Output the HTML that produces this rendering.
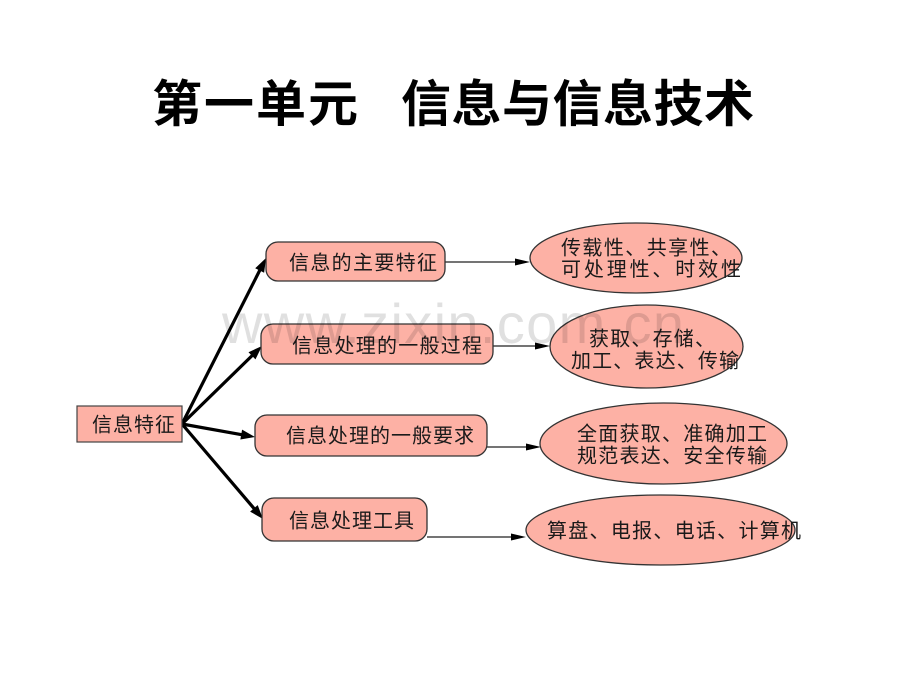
<!DOCTYPE html>
<html>
<head>
<meta charset="utf-8">
<style>
  html,body{margin:0;padding:0;background:#fff;}
  svg{display:block;}
  .t{font-family:"Liberation Sans","Noto Sans CJK SC",sans-serif;font-size:20px;fill:#1a1a1a;}
  .title{font-family:"Liberation Sans","Noto Sans CJK SC",sans-serif;font-size:50px;font-weight:bold;fill:#000;}
</style>
</head>
<body>
<svg width="920" height="690" viewBox="0 0 920 690" xmlns="http://www.w3.org/2000/svg">
  <rect x="0" y="0" width="920" height="690" fill="#fff"/>

  <!-- Title -->
  <text class="title" x="152" y="121.5" textLength="206" lengthAdjust="spacing">第一单元</text>
  <text class="title" x="401" y="121.5" textLength="353" lengthAdjust="spacing">信息与信息技术</text>

  <!-- Thick arrows from hub -->
  <g stroke="#000" stroke-width="3.2" fill="none" stroke-linecap="round">
    <line x1="182" y1="424" x2="261.5" y2="266.9"/>
    <line x1="182" y1="424" x2="254.8" y2="353"/>
    <line x1="182" y1="424" x2="245.2" y2="435.3"/>
    <line x1="182" y1="424" x2="256.5" y2="511.4"/>
  </g>
  <g fill="#000">
    <polygon points="266,258 264.14,272.76 255.22,268.24"/>
    <polygon points="262,346 255.47,359.35 248.49,352.19"/>
    <polygon points="255,437 240.34,439.48 242.09,429.63"/>
    <polygon points="263,519 250.11,511.6 257.71,505.1"/>
  </g>

  <!-- Thin arrows -->
  <g stroke="#222" stroke-width="1.2">
    <line x1="445" y1="262" x2="518" y2="262"/>
    <line x1="493" y1="346" x2="538" y2="346"/>
    <line x1="487" y1="447" x2="529" y2="447"/>
    <line x1="427" y1="537" x2="514" y2="537"/>
  </g>
  <g fill="#000">
    <polygon points="530,262 515,258.5 515,265.5"/>
    <polygon points="550,346 535,342.5 535,349.5"/>
    <polygon points="541,447 526,443.5 526,450.5"/>
    <polygon points="526,537 511,533.5 511,540.5"/>
  </g>

  <!-- Hub -->
  <rect x="77" y="406" width="105" height="36" fill="#FDB1A5" stroke="#444" stroke-width="1.2"/>
  <text class="t" x="92" y="431.5" textLength="83" lengthAdjust="spacing">信息特征</text>

  <!-- Rounded boxes -->
  <g fill="#FDB1A5" stroke="#333" stroke-width="1.3">
    <rect x="266" y="242" width="179" height="39" rx="12" ry="12"/>
    <rect x="261" y="324" width="232" height="40" rx="12" ry="12"/>
    <rect x="255" y="415" width="232" height="41" rx="12" ry="12"/>
    <rect x="262" y="498" width="165" height="43" rx="12" ry="12"/>
  </g>
  <text class="t" x="289" y="269.5" textLength="148" lengthAdjust="spacing">信息的主要特征</text>
  <text class="t" x="292" y="352.5" textLength="190" lengthAdjust="spacing">信息处理的一般过程</text>
  <text class="t" x="286" y="442.5" textLength="188" lengthAdjust="spacing">信息处理的一般要求</text>
  <text class="t" x="289" y="527.5" textLength="125" lengthAdjust="spacing">信息处理工具</text>

  <!-- Ellipses -->
  <g fill="#FDB1A5" stroke="#333" stroke-width="1.3">
    <ellipse cx="636" cy="258" rx="106" ry="35"/>
    <ellipse cx="646.5" cy="346.5" rx="96.5" ry="41.5"/>
    <ellipse cx="663.5" cy="443.5" rx="123.5" ry="40.5"/>
    <ellipse cx="660.5" cy="530" rx="134.5" ry="35"/>
  </g>
  <text class="t" x="561" y="254.5" textLength="170" lengthAdjust="spacing">传载性、共享性、</text>
  <text class="t" x="561" y="276" textLength="180" lengthAdjust="spacing">可处理性、时效性</text>
  <text class="t" x="589" y="345.5" textLength="126" lengthAdjust="spacing">获取、存储、</text>
  <text class="t" x="571" y="367.5" textLength="168" lengthAdjust="spacing">加工、表达、传输</text>
  <text class="t" x="577" y="440.5" textLength="190" lengthAdjust="spacing">全面获取、准确加工</text>
  <text class="t" x="577" y="462.5" textLength="190" lengthAdjust="spacing">规范表达、安全传输</text>
  <text class="t" x="547" y="537.5" textLength="254" lengthAdjust="spacing">算盘、电报、电话、计算机</text>

  <!-- Watermark -->
  <text x="222" y="343" font-family="Liberation Sans, sans-serif" font-size="56" fill="#000" fill-opacity="0.12" textLength="462" lengthAdjust="spacing">www.zixin.com.cn</text>
</svg>
</body>
</html>
